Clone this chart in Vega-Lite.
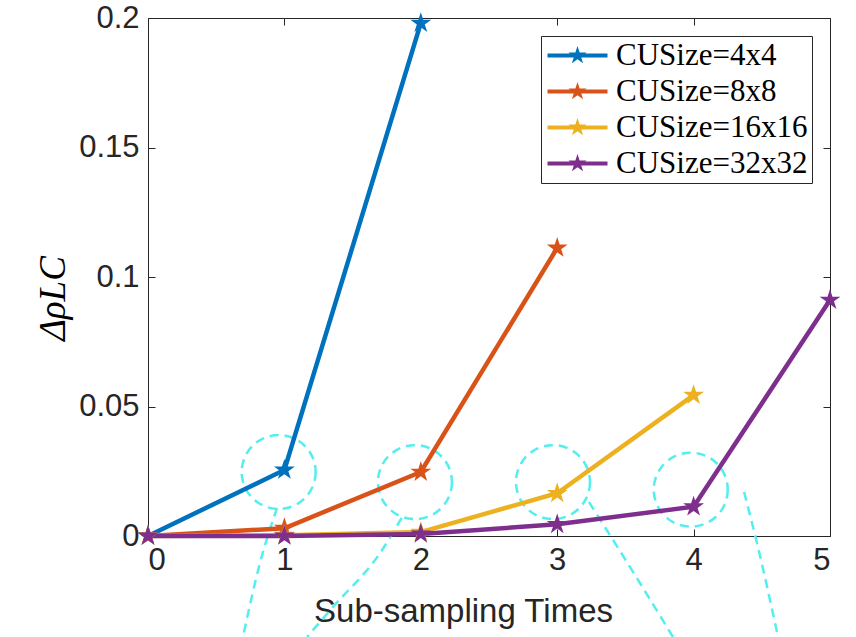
{
  "$schema": "https://vega.github.io/schema/vega-lite/v6.json",
  "width": 682,
  "height": 518,
  "autosize": {"type": "none"},
  "padding": {"left": 148, "top": 18, "right": 26, "bottom": 101},
  "background": "white",
  "config": {
    "view": {"stroke": null},
    "axis": {
      "grid": false,
      "domainColor": "#262626",
      "domainWidth": 1,
      "tickColor": "#262626",
      "tickWidth": 1,
      "tickSize": -7,
      "labelColor": "#262626",
      "labelFont": "Liberation Sans",
      "labelFontSize": 31,
      "titleFont": "Liberation Sans",
      "titleColor": "#262626",
      "titleFontWeight": "normal"
    },
    "legend": {
      "title": null,
      "orient": "top-right",
      "offset": 18,
      "fillColor": "white",
      "strokeColor": "#262626",
      "padding": 4,
      "rowPadding": 4,
      "symbolOffset": 17,
      "labelOffset": 23,
      "labelLimit": 0,
      "labelFont": "Liberation Serif",
      "labelFontSize": 31,
      "labelColor": "black",
      "symbolSize": 900,
      "symbolStrokeWidth": 0,
      "symbolOpacity": 1
    }
  },
  "datasets": {
    "series": [
      {"s": "CUSize=4x4", "x": 0, "y": 0},
      {"s": "CUSize=4x4", "x": 1, "y": 0.0255},
      {"s": "CUSize=4x4", "x": 2, "y": 0.198},
      {"s": "CUSize=8x8", "x": 0, "y": 0},
      {"s": "CUSize=8x8", "x": 1, "y": 0.003},
      {"s": "CUSize=8x8", "x": 2, "y": 0.0247},
      {"s": "CUSize=8x8", "x": 3, "y": 0.1112},
      {"s": "CUSize=16x16", "x": 0, "y": 0},
      {"s": "CUSize=16x16", "x": 1, "y": 0.0003},
      {"s": "CUSize=16x16", "x": 2, "y": 0.0015},
      {"s": "CUSize=16x16", "x": 3, "y": 0.0165},
      {"s": "CUSize=16x16", "x": 4, "y": 0.0544},
      {"s": "CUSize=32x32", "x": 0, "y": 0},
      {"s": "CUSize=32x32", "x": 1, "y": 0},
      {"s": "CUSize=32x32", "x": 2, "y": 0.0008},
      {"s": "CUSize=32x32", "x": 3, "y": 0.0045},
      {"s": "CUSize=32x32", "x": 4, "y": 0.0113},
      {"s": "CUSize=32x32", "x": 5, "y": 0.0911}
    ],
    "circles": [
      {"x": 0.958, "y": 0.0247},
      {"x": 1.957, "y": 0.0208},
      {"x": 2.969, "y": 0.0208},
      {"x": 3.979, "y": 0.0179}
    ],
    "curves": [
      {"id": "A", "o": 1, "x": 0.946, "y": 0.0108},
      {"id": "A", "o": 2, "x": 0.821, "y": -0.0104},
      {"id": "A", "o": 3, "x": 0.696, "y": -0.039},
      {"id": "B", "o": 1, "x": 1.86, "y": 0.007},
      {"id": "B", "o": 2, "x": 1.701, "y": -0.0066},
      {"id": "B", "o": 3, "x": 1.356, "y": -0.0274},
      {"id": "B", "o": 4, "x": 1.166, "y": -0.039},
      {"id": "C", "o": 1, "x": 3.233, "y": 0.0131},
      {"id": "C", "o": 2, "x": 3.534, "y": -0.012},
      {"id": "C", "o": 3, "x": 3.849, "y": -0.039},
      {"id": "D", "o": 1, "x": 4.37, "y": 0.017},
      {"id": "D", "o": 2, "x": 4.472, "y": -0.0043},
      {"id": "D", "o": 3, "x": 4.619, "y": -0.039}
    ]
  },
  "resolve": {
    "scale": {"x": "shared", "y": "shared", "color": "shared"},
    "axis": {"x": "independent", "y": "independent"}
  },
  "layer": [
    {
      "data": {"name": "circles"},
      "mark": {"type": "point", "shape": "circle", "filled": false, "size": 5476, "stroke": "#55eeee", "strokeWidth": 2.5, "strokeDash": [9, 6], "opacity": 1},
      "encoding": {
        "x": {"field": "x", "type": "quantitative", "scale": {"domain": [0, 5], "nice": false, "zero": false},
              "axis": {"orient": "top", "labels": false, "title": null, "values": [0, 1, 2, 3, 4, 5]}},
        "y": {"field": "y", "type": "quantitative", "scale": {"domain": [0, 0.2], "nice": false},
              "axis": {"orient": "right", "labels": false, "title": null, "values": [0, 0.05, 0.1, 0.15, 0.2]}}
      }
    },
    {
      "data": {"name": "curves"},
      "mark": {"type": "line", "stroke": "#55eeee", "strokeWidth": 2.5, "strokeDash": [9, 6], "interpolate": "monotone"},
      "encoding": {
        "x": {"field": "x", "type": "quantitative", "axis": null},
        "y": {"field": "y", "type": "quantitative", "axis": null},
        "detail": {"field": "id"},
        "order": {"field": "o"}
      }
    },
    {
      "data": {"name": "series"},
      "mark": {"type": "line", "strokeWidth": 4.5},
      "encoding": {
        "x": {"field": "x", "type": "quantitative",
              "axis": {"orient": "bottom", "values": [0, 1, 2, 3, 4, 5], "format": "d", "labelPadding": 16,
                       "title": "Sub-sampling Times", "titleFontSize": 33, "titlePadding": 20, "titleX": 315}},
        "y": {"field": "y", "type": "quantitative",
              "axis": {"orient": "left", "values": [0, 0.05, 0.1, 0.15, 0.2], "format": "~g", "labelPadding": 16,
                       "title": "ΔρLC", "titleFont": "Liberation Serif", "titleFontStyle": "italic", "titleColor": "black",
                       "titleFontSize": 37, "titlePadding": 6, "titleY": 280}},
        "color": {"field": "s", "type": "nominal",
                  "legend": {"symbolType": "M-2,-0.133H2V0.133H-2Z M0,-0.633L0.1421,-0.1956L0.602,-0.1956L0.23,0.0747L0.3721,0.5121L0,0.2418L-0.3721,0.5121L-0.23,0.0747L-0.602,-0.1956L-0.1421,-0.1956Z"},
                  "scale": {"domain": ["CUSize=4x4", "CUSize=8x8", "CUSize=16x16", "CUSize=32x32"],
                            "range": ["#0072BD", "#D95319", "#EDB120", "#7E2F8E"]}}
      }
    },
    {
      "data": {"name": "series"},
      "mark": {"type": "point", "filled": true, "opacity": 1, "size": 480,
               "shape": "M0,-1L0.2245,-0.309L0.951,-0.309L0.3633,0.118L0.5878,0.809L0,0.382L-0.5878,0.809L-0.3633,0.118L-0.951,-0.309L-0.2245,-0.309Z"},
      "encoding": {
        "x": {"field": "x", "type": "quantitative", "axis": null},
        "y": {"field": "y", "type": "quantitative", "axis": null},
        "color": {"field": "s", "type": "nominal",
                  "legend": {"symbolType": "M-2,-0.133H2V0.133H-2Z M0,-0.633L0.1421,-0.1956L0.602,-0.1956L0.23,0.0747L0.3721,0.5121L0,0.2418L-0.3721,0.5121L-0.23,0.0747L-0.602,-0.1956L-0.1421,-0.1956Z"}}
      }
    }
  ]
}
